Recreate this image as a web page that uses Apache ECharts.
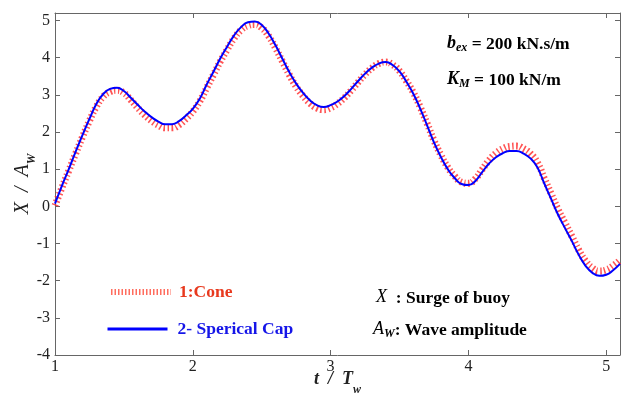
<!DOCTYPE html>
<html><head><meta charset="utf-8">
<script src="https://cdn.jsdelivr.net/npm/echarts@6/dist/echarts.min.js"></script>
<style>html,body{margin:0;padding:0;background:#fff}#c{width:621px;height:394px}</style>
</head><body><div id="c"></div>
<script>
const tValues = [1.00,1.05,1.10,1.15,1.20,1.25,1.30,1.35,1.40,1.45,1.50,1.55,1.60,1.65,1.70,1.75,1.80,1.85,1.90,1.95,2.00,2.05,2.10,2.15,2.20,2.25,2.30,2.35,2.40,2.45,2.50,2.55,2.60,2.65,2.70,2.75,2.80,2.85,2.90,2.95,3.00,3.05,3.10,3.15,3.20,3.25,3.30,3.35,3.40,3.45,3.50,3.55,3.60,3.65,3.70,3.75,3.80,3.85,3.90,3.95,4.00,4.05,4.10,4.15,4.20,4.25,4.30,4.35,4.40,4.45,4.50,4.55,4.60,4.65,4.70,4.75,4.80,4.85,4.90,4.95,5.00,5.05,5.10];
const coneValues = [0.02,0.5,0.96,1.42,1.87,2.3,2.68,2.95,3.08,3.12,3.05,2.86,2.65,2.46,2.3,2.18,2.11,2.11,2.19,2.35,2.55,2.82,3.18,3.54,3.9,4.22,4.52,4.74,4.86,4.89,4.8,4.58,4.26,3.9,3.54,3.22,2.97,2.77,2.64,2.6,2.65,2.76,2.92,3.12,3.34,3.55,3.72,3.84,3.88,3.81,3.64,3.37,3.06,2.67,2.23,1.77,1.38,1.05,0.81,0.65,0.62,0.74,0.99,1.24,1.43,1.55,1.61,1.62,1.55,1.42,1.18,0.76,0.34,-0.08,-0.44,-0.8,-1.17,-1.47,-1.66,-1.74,-1.71,-1.6,-1.45];
const capValues = [0.07,0.55,1.0,1.47,1.92,2.35,2.75,3.02,3.16,3.19,3.1,2.92,2.73,2.55,2.4,2.28,2.21,2.21,2.29,2.44,2.62,2.89,3.27,3.62,3.98,4.3,4.6,4.82,4.95,4.97,4.88,4.65,4.33,3.97,3.61,3.3,3.05,2.85,2.72,2.67,2.72,2.82,2.97,3.16,3.37,3.57,3.73,3.84,3.88,3.8,3.63,3.35,3.03,2.63,2.18,1.72,1.33,1.0,0.76,0.6,0.57,0.68,0.92,1.15,1.32,1.43,1.49,1.49,1.42,1.29,1.05,0.62,0.2,-0.22,-0.58,-0.93,-1.3,-1.6,-1.79,-1.87,-1.84,-1.72,-1.55];
const xTicks = [1,2,3,4,5];
const yTicks = [-4,-3,-2,-1,0,1,2,3,4,5];
const seriesNames = ['1:Cone','2- Sperical Cap'];

const F = '"Liberation Serif","DejaVu Serif",serif';
const axisCommon = {
  axisLine:{show:true,onZero:false,lineStyle:{color:'#666',width:1}},
  axisTick:{show:true,inside:true,length:5,lineStyle:{color:'#666'}},
  splitLine:{show:false}
};
function richSet(fill, big, small, bsize, subPad){
  return {
    i:{fontFamily:F,fontSize:big,fontStyle:'italic',fontWeight:'bold',color:fill,verticalAlign:'top',lineHeight:20},
    s:{fontFamily:F,fontSize:small,fontStyle:'italic',fontWeight:'bold',color:fill,verticalAlign:'top',lineHeight:20,padding:[subPad||8,0,0,0]},
    b:{fontFamily:F,fontSize:bsize||17,fontWeight:'bold',color:fill,verticalAlign:'top',lineHeight:20,padding:[1,0,0,0]},
    n:{fontFamily:F,fontSize:big,fontStyle:'italic',color:fill,verticalAlign:'top',lineHeight:20}
  };
}
const chart = echarts.init(document.getElementById('c'));
chart.setOption({
  animation:false,
  grid:{left:55,right:1,top:13,bottom:39,containLabel:false,outerBoundsMode:'none'},
  xAxis:[
    Object.assign({type:'value',min:1,max:5.1,interval:1,position:'bottom',
      axisLabel:{color:'#222',fontFamily:F,fontSize:16,margin:4,showMaxLabel:false,
        formatter:v=>xTicks.includes(v)?String(v):''},
      name:'{i|t  /  T}{s|w}',nameLocation:'middle',nameGap:15,nameMoveOverlap:false,
      nameTextStyle:{rich:richSet('#222',18,12,16,14)}
    },axisCommon),
    Object.assign({type:'value',min:1,max:5.1,interval:1,position:'top',axisLabel:{show:false}},axisCommon)
  ],
  yAxis:[
    Object.assign({type:'value',min:-4,max:5.2,interval:1,position:'left',
      axisLabel:{color:'#222',fontFamily:F,fontSize:16,margin:5,showMaxLabel:false,
        formatter:v=>yTicks.includes(v)?String(v):''},
      name:'{n|X  /  A}{s|W}',nameLocation:'middle',nameRotate:90,nameGap:22,nameMoveOverlap:false,
      nameTextStyle:{rich:richSet('#222',20,12,16,13)}
    },axisCommon),
    Object.assign({type:'value',min:-4,max:5.2,interval:1,position:'right',axisLabel:{show:false}},axisCommon)
  ],
  legend:[
    {left:108,top:283,padding:0,itemWidth:60,itemHeight:14,itemGap:10,itemStyle:{opacity:0},
      data:[{name:seriesNames[0],
        lineStyle:{color:'rgba(255,60,40,0.75)',width:6,type:[1.5,2],cap:'butt'},
        textStyle:{color:'#e8391e',fontFamily:F,fontSize:17.5,fontWeight:'bold',padding:[0,0,0,3]}}]},
    {left:106,top:320,padding:0,itemWidth:60,itemHeight:14,itemGap:10,itemStyle:{opacity:0},
      data:[{name:seriesNames[1],
        lineStyle:{color:'#0000ff',width:3},
        textStyle:{color:'#1515e8',fontFamily:F,fontSize:17.5,fontWeight:'bold',padding:[0,0,0,5]}}]}
  ],
  series:[
    {name:seriesNames[0],type:'line',smooth:true,showSymbol:false,symbol:'none',
      data:tValues.map((t,i)=>[t,coneValues[i]]),
      lineStyle:{color:'rgba(255,40,40,0.8)',width:7,type:[1.5,2.5],cap:'butt'},
      itemStyle:{color:'rgba(255,40,40,0.8)'}},
    {name:seriesNames[1],type:'line',smooth:true,showSymbol:false,symbol:'none',
      data:tValues.map((t,i)=>[t,capValues[i]]),
      lineStyle:{color:'#0000ff',width:2},itemStyle:{color:'#0000ff'}}
  ],
  graphic:[
    {type:'text',left:447,top:34,style:{rich:richSet('#111',18,12,17.5),text:'{i|b}{s|ex}{b| = 200 kN.s/m}'}},
    {type:'text',left:447,top:70,style:{rich:richSet('#111',18,12,17.5),text:'{i|K}{s|M}{b| = 100 kN/m}'}},
    {type:'text',left:376,top:288,style:{rich:richSet('#111',18,12,17.5),text:'{n|X}{b|  : Surge of buoy}'}},
    {type:'text',left:373,top:320,style:{rich:richSet('#111',18,12,17.5),text:'{n|A}{s|W}{b|: Wave amplitude}'}}
  ]
});
</script></body></html>
